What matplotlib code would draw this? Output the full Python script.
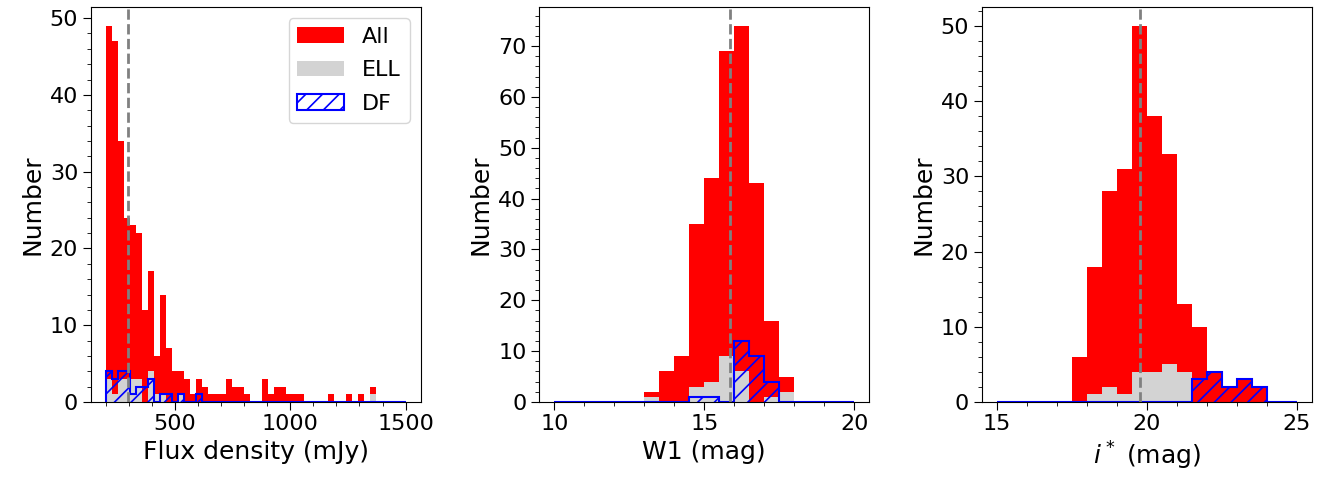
''' three histograms: flux density, W1 and i* '''
import numpy as np
import matplotlib
import matplotlib.pyplot as plt

matplotlib.use('Agg')

# flux density (mJy): 50 bins over 200-1500
flux_range = (200, 1500)
flux_all = [49, 47, 34, 24, 23, 22, 12, 17, 6, 14,
            7, 4, 4, 3, 1, 3, 2, 1, 1, 1,
            3, 2, 2, 1, 0, 0, 3, 1, 2, 2,
            1, 1, 1, 0, 0, 0, 0, 1, 0, 0,
            1, 0, 1, 0, 2, 0, 0, 0, 0, 0]
flux_ell = [3, 1, 3, 3, 3, 3, 0, 4, 1, 1,
            0, 0, 1, 0, 0, 0, 0, 0, 0, 0,
            0, 0, 0, 0, 0, 0, 0, 0, 0, 0,
            0, 0, 0, 0, 0, 0, 0, 0, 0, 0,
            0, 0, 0, 0, 1, 0, 0, 0, 0, 0]
flux_df = [4, 3, 4, 4, 1, 2, 2, 3, 0, 1,
           1, 0, 1, 0, 0, 1, 0, 0, 0, 0,
           0, 0, 0, 0, 0, 0, 0, 0, 0, 0,
           0, 0, 0, 0, 0, 0, 0, 0, 0, 0,
           0, 0, 0, 0, 0, 0, 0, 0, 0, 0]
flux_median = 298

# W1 (mag): 20 bins over 10-20
w1_range = (10, 20)
w1_all = [0, 0, 0, 0, 0, 0, 2, 6, 9, 35, 44, 69, 74, 43, 16, 5, 0, 0, 0, 0]
w1_ell = [0, 0, 0, 0, 0, 0, 1, 0, 0, 3, 4, 9, 6, 0, 1, 2, 0, 0, 0, 0]
w1_df = [0, 0, 0, 0, 0, 0, 0, 0, 0, 1, 1, 0, 12, 9, 4, 0, 0, 0, 0, 0]
w1_median = 15.87

# i* (mag): 20 bins over 15-25
i_range = (15, 25)
i_all = [0, 0, 0, 0, 0, 6, 18, 28, 31, 50, 38, 33, 13, 10, 4, 2, 3, 2, 0, 0]
i_ell = [0, 0, 0, 0, 0, 0, 1, 2, 1, 4, 4, 5, 4, 0, 0, 0, 0, 0, 0, 0]
i_df = [0, 0, 0, 0, 0, 0, 0, 0, 0, 0, 0, 0, 0, 3, 4, 2, 3, 2, 0, 0]
i_median = 19.78

xlabels = ['Flux density (mJy)', 'W1 (mag)', r'$i^*$ (mag)']


def panel(ax, rng, all_n, ell_n, df_n, median, xlabel, legend=False):
    ''' one histogram panel '''
    edges = np.linspace(rng[0], rng[1], len(all_n) + 1)
    centers = 0.5 * (edges[1:] + edges[:-1])
    ax.hist(centers, bins=edges, weights=all_n, color='red', label='All')
    ax.hist(centers, bins=edges, weights=ell_n, color='lightgray',
            label='ELL')
    ax.hist(centers, bins=edges, weights=df_n, histtype='step', fill=False,
            hatch='//', edgecolor='blue', linewidth=1.5, label='DF')
    ax.axvline(median, color='gray', linestyle='--', linewidth=2)
    ax.minorticks_on()
    ax.tick_params(labelsize=16)
    ax.tick_params(which='major', length=5.5)
    ax.tick_params(which='minor', length=3)
    ax.set_xlabel(xlabel, fontsize=18)
    ax.set_ylabel('Number', fontsize=18)
    if legend:
        ax.legend(loc='upper right', fontsize=16, labelspacing=0.6,
                  handlelength=2.1, handleheight=0.72)


def main():
    ''' entry point '''
    plt.rcParams['hatch.linewidth'] = 1.2
    fig = plt.figure(figsize=(13.29, 4.82), dpi=100)
    lefts = [0.0682, 0.4058, 0.7387]
    axes = [fig.add_axes([l, 0.166, 0.2483, 0.8195]) for l in lefts]

    panel(axes[0], flux_range, flux_all, flux_ell, flux_df, flux_median,
          xlabels[0], legend=True)
    panel(axes[1], w1_range, w1_all, w1_ell, w1_df, w1_median, xlabels[1])
    panel(axes[2], i_range, i_all, i_ell, i_df, i_median, xlabels[2])

    fig.savefig('out.png', dpi=100)


if __name__ == '__main__':
    main()
